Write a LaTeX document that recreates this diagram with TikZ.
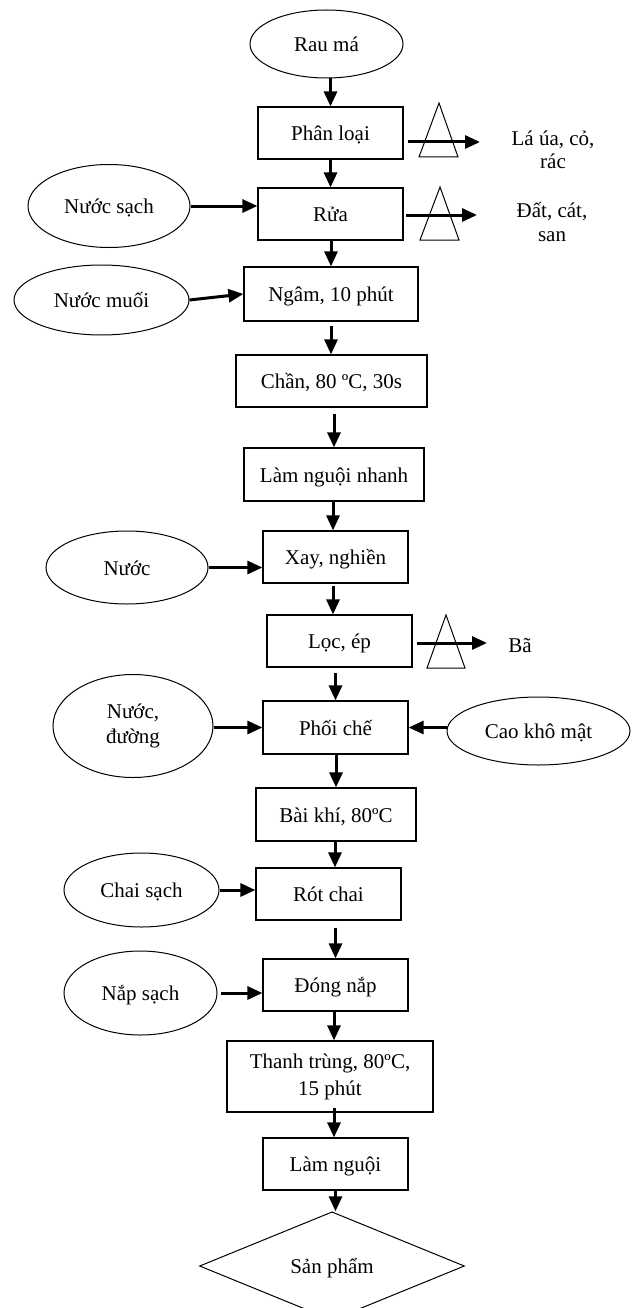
\documentclass[tikz,border=0pt]{standalone}
\usepackage{fontspec}
\setmainfont{Liberation Serif}
\usetikzlibrary{arrows.meta,shapes.geometric,calc}
\begin{document}
\begin{tikzpicture}[x=1pt,y=-1pt,
  every node/.style={font=\fontsize{21}{24}\selectfont, inner sep=0pt, align=center},
  one/.style={text height=20pt, text depth=5pt},
  proc/.style={draw, line width=1.2pt, rectangle, minimum height=52pt},
  src/.style={draw, line width=1pt, ellipse},
  arr/.style={line width=3pt, -{Triangle[length=15pt 0 0, width=13pt 0 0]}},
  waste/.style={line width=1pt, line join=miter}
]
\useasboundingbox (0,0) rectangle (639,1308);
\fill[white] (0,0) rectangle (639,1308);

% main process
\node[src, one, minimum width=153pt, minimum height=68pt] (rau) at (326.5,44) {Rau má};
\node[proc, one, minimum width=145pt] (phanloai) at (330.5,133) {Phân loại};
\node[proc, one, minimum width=145pt] (rua) at (330.5,214) {Rửa};
\node[proc, one, minimum width=174pt, minimum height=54pt] (ngam) at (331,294) {Ngâm, 10 phút};
\node[proc, one, minimum width=191pt] (chan) at (331.5,381) {Chần, 80 ºC, 30s};
\node[proc, one, minimum width=180pt, minimum height=53pt] (lnn) at (334,474.5) {Làm nguội nhanh};
\node[proc, one, minimum width=145pt] (xay) at (335.5,557) {Xay, nghiền};
\node[proc, one, minimum width=145pt] (loc) at (339.5,641) {Lọc, ép};
\node[proc, one, minimum width=145pt, minimum height=53pt] (phoi) at (335.5,727.5) {Phối chế};
\node[proc, one, minimum width=160pt, minimum height=53pt] (baikhi) at (336,814.5) {Bài khí, 80ºC};
\node[proc, one, minimum width=145pt] (rot) at (328.5,894) {Rót chai};
\node[proc, one, minimum width=145pt] (dong) at (335.5,985) {Đóng nắp};
\node[proc, minimum width=206pt, minimum height=71pt, font=\fontsize{21}{27}\selectfont] (thanh) at (330,1076.5) {Thanh trùng, 80ºC,\\15 phút};
\node[proc, one, minimum width=145pt] (lamnguoi) at (335.5,1164) {Làm nguội};
\node[draw, diamond, one, line width=1pt, minimum width=265pt, minimum height=92pt] (sp) at (332,1266) {Sản phẩm};

% inputs
\node[src, one, minimum width=162pt, minimum height=83pt] (nuocsach) at (109,206) {Nước sạch};
\node[src, one, minimum width=175pt, minimum height=70pt] (nuocmuoi) at (101.5,300) {Nước muối};
\node[src, one, minimum width=162pt, minimum height=73pt] (nuoc) at (127,567.5) {Nước};
\node[src, minimum width=160pt, minimum height=103pt, font=\fontsize{21}{25}\selectfont] (nuocduong) at (133,726) {Nước,\\đường};
\node[src, one, minimum width=183pt, minimum height=68pt] (cao) at (538.5,731) {Cao khô mật};
\node[src, one, minimum width=155pt, minimum height=74pt] (chai) at (141.5,890) {Chai sạch};
\node[src, one, minimum width=153pt, minimum height=84pt] (nap) at (140.5,993) {Nắp sạch};

% outputs
\node[font=\fontsize{21}{23.5}\selectfont] (out1) at (553,150) {Lá úa, cỏ,\\rác};
\node[font=\fontsize{21}{24}\selectfont] (out2) at (552,221.5) {Đất, cát,\\san};
\node[one] (out3) at (520,645) {Bã};

% vertical flow arrows
\draw[arr] (rau.south -| phanloai.north) -- (phanloai.north);
\draw[arr] (phanloai.south) -- (rua.north);
\draw[arr] (rua.south -| ngam.north) -- (ngam.north);
\draw[arr, shorten <=4pt] (ngam.south) -- (ngam.south |- chan.north);
\draw[arr, shorten <=6pt] (chan.south -| lnn.north) -- (lnn.north);
\draw[arr] (lnn.south -| 333,0) -- (xay.north -| 333,0);
\draw[arr, shorten <=2pt] (xay.south -| 333,0) -- (loc.north -| 333,0);
\draw[arr, shorten <=5pt] (loc.south -| phoi.north) -- (phoi.north);
\draw[arr] (phoi.south -| baikhi.north) -- (baikhi.north);
\draw[arr] (baikhi.south -| 335,0) -- (rot.north -| 335,0);
\draw[arr, shorten <=7pt] (rot.south -| dong.north) -- (dong.north);
\draw[arr] (dong.south -| 334,0) -- (thanh.north -| 334,0);
\draw[arr, shorten <=-5pt] (thanh.south -| 334,0) -- (lamnguoi.north -| 334,0);
\draw[arr] (lamnguoi.south) -- (sp.north -| lamnguoi.south);

% input arrows
\draw[arr] (nuocsach.east) -- (nuocsach.east -| rua.west);
\draw[arr] (nuocmuoi.east) -- (ngam.west);
\draw[arr] (nuoc.east) -- (nuoc.east -| xay.west);
\draw[arr] (phoi.west -| nuocduong.east) -- (phoi.west);
\draw[arr] (phoi.east -| cao.west) -- (phoi.east);
\draw[arr] (chai.east) -- (chai.east -| rot.west);
\draw[arr, shorten <=3pt] (nap.east) -- (nap.east -| dong.west);

% waste symbols and output arrows
\coordinate (w1) at (480,142);
\coordinate (w2) at (477,215);
\coordinate (w3) at (487,643);
\draw[waste] (439,103) -- (458,157) -- (419,157) -- cycle;
\draw[waste] (440,187) -- (459,240) -- (420,240) -- cycle;
\draw[waste] (446,615) -- (465,668) -- (427,668) -- cycle;
\draw[arr, shorten <=4pt] (phanloai.east |- w1) -- (w1);
\draw[arr, shorten <=2pt] (rua.east |- w2) -- (w2);
\draw[arr, shorten <=4pt] (loc.east |- w3) -- (w3);
\end{tikzpicture}
\end{document}
